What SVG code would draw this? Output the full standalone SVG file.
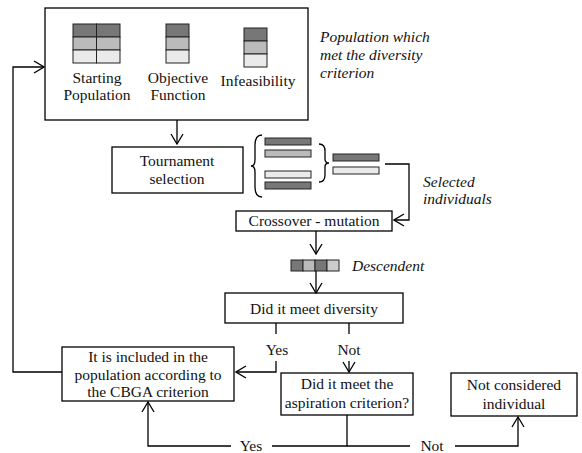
<svg xmlns="http://www.w3.org/2000/svg" width="582" height="453" viewBox="0 0 582 453">
<style>
.box{fill:#fff;stroke:#000;stroke-width:1.3}
text{font-family:'Liberation Serif','DejaVu Serif',serif;font-size:15.5px;fill:#111}
.t{text-anchor:middle}
.i{font-style:italic}
.ln{fill:none;stroke:#000;stroke-width:1.3}
.d{fill:#777;stroke:#222;stroke-width:1}
.m{fill:#bbb;stroke:#222;stroke-width:1}
.l{fill:#eaeaea;stroke:#222;stroke-width:1}
</style>
<defs>
<marker id="ah" viewBox="0 0 12 14" refX="11" refY="7" markerWidth="12" markerHeight="14" markerUnits="userSpaceOnUse" orient="auto">
<polyline points="1,1 11,7 1,13" fill="none" stroke="#000" stroke-width="1.3"/>
</marker>
</defs>
<rect width="582" height="453" fill="#fff"/>

<g id="population">
<rect class="box" x="45" y="8" width="263" height="112"/>
<rect class="d" x="73" y="24" width="23.5" height="13"/><rect class="d" x="96.5" y="24" width="23.5" height="13"/>
<rect class="m" x="73" y="37" width="23.5" height="13"/><rect class="m" x="96.5" y="37" width="23.5" height="13"/>
<rect class="l" x="73" y="50" width="23.5" height="13"/><rect class="l" x="96.5" y="50" width="23.5" height="13"/>
<rect class="d" x="166" y="24" width="23" height="13"/>
<rect class="m" x="166" y="37" width="23" height="13"/>
<rect class="l" x="166" y="50" width="23" height="13"/>
<rect class="d" x="244" y="28" width="23" height="13"/>
<rect class="m" x="244" y="41" width="23" height="13"/>
<rect class="l" x="244" y="54" width="23" height="13"/>
<text class="t" x="97" y="83">Starting</text>
<text class="t" x="97" y="100">Population</text>
<text class="t" x="178" y="83">Objective</text>
<text class="t" x="178" y="100">Function</text>
<text class="t" x="258" y="86">Infeasibility</text>
</g>
<g id="note-population">
<text class="i" x="320" y="42">Population which</text>
<text class="i" x="320" y="60">met the diversity</text>
<text class="i" x="320" y="78">criterion</text>
</g>

<g id="tournament">
<rect class="box" x="112" y="147" width="131" height="46"/>
<text class="t" x="177" y="166">Tournament</text>
<text class="t" x="177" y="184">selection</text>
</g>

<g id="selection-bars">
<path class="ln" stroke-width="1.1" d="M262,135 Q255,135 255,145 L255,160 Q255,166 251,166 Q255,166 255,172 L255,187 Q255,197 262,197"/>
<rect class="d" x="265" y="138" width="46" height="7"/>
<rect class="m" x="265" y="150" width="46" height="7"/>
<rect class="l" x="265" y="171" width="46" height="7"/>
<rect class="d" x="265" y="182" width="46" height="7"/>
<path class="ln" stroke-width="1.1" d="M319,144 Q325,144 325,151 L325,159 Q325,163 329,163 Q325,163 325,167 L325,175 Q325,182 319,182"/>
<rect class="d" x="333" y="154" width="46" height="7"/>
<rect class="l" x="333" y="167" width="46" height="7"/>
</g>
<g id="note-selected">
<text class="i" x="423" y="187">Selected</text>
<text class="i" x="423" y="204">individuals</text>
</g>

<g id="crossover">
<rect class="box" x="236" y="211" width="156" height="20"/>
<text class="t" x="314" y="226">Crossover - mutation</text>
</g>

<g id="descendent">
<rect class="d" x="291" y="260" width="12" height="11"/>
<rect class="m" x="303" y="260" width="12" height="11"/>
<rect class="d" x="315" y="260" width="12" height="11"/>
<rect class="l" x="327" y="260" width="12" height="11" style="fill:#ccc"/>
<text class="i" x="352" y="271">Descendent</text>
</g>

<g id="diversity">
<rect class="box" x="225" y="293" width="178" height="30"/>
<text class="t" x="314" y="314">Did it meet diversity</text>
</g>

<g id="included">
<rect class="box" x="62" y="347" width="172" height="54"/>
<text class="t" x="148" y="362">It is included in the</text>
<text class="t" x="148" y="380">population according to</text>
<text class="t" x="148" y="397">the CBGA criterion</text>
</g>

<g id="aspiration">
<rect class="box" x="281" y="373" width="132" height="42"/>
<text class="t" x="347" y="389">Did it meet the</text>
<text class="t" x="347" y="408">aspiration criterion?</text>
</g>

<g id="not-considered">
<rect class="box" x="451" y="373" width="126" height="43"/>
<text class="t" x="514" y="390">Not considered</text>
<text class="t" x="514" y="409">individual</text>
</g>

<g id="connectors">
<line class="ln" x1="177" y1="120" x2="177" y2="144" marker-end="url(#ah)"/>
<polyline class="ln" points="385,164 409,164 409,220 394,220" marker-end="url(#ah)"/>
<line class="ln" x1="316" y1="231" x2="316" y2="254" marker-end="url(#ah)"/>
<line class="ln" x1="316" y1="271" x2="316" y2="293" marker-end="url(#ah)"/>
<line class="ln" x1="276" y1="323" x2="276" y2="334"/>
<polyline class="ln" points="276,361 276,372 236,372" marker-end="url(#ah)"/>
<line class="ln" x1="349" y1="323" x2="349" y2="334"/>
<line class="ln" x1="349" y1="361" x2="349" y2="372" marker-end="url(#ah)"/>
<polyline class="ln" points="62,372 13,372 13,67 44,67" marker-end="url(#ah)"/>
<polyline class="ln" points="347,415 347,446 272,446"/>
<polyline class="ln" points="231,446 148,446 148,402" marker-end="url(#ah)"/>
<line class="ln" x1="347" y1="446" x2="410" y2="446"/>
<polyline class="ln" points="455,446 518,446 518,417" marker-end="url(#ah)"/>
<text class="t" x="277" y="355">Yes</text>
<text class="t" x="349" y="355">Not</text>
<text class="t" x="251" y="451">Yes</text>
<text class="t" x="432" y="451">Not</text>
</g>
</svg>
